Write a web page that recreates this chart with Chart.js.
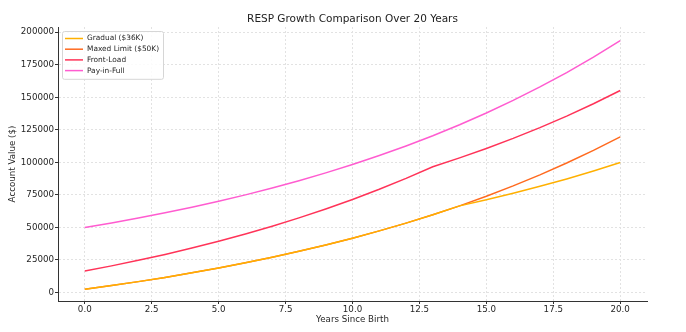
<!DOCTYPE html>
<html>
<head>
<meta charset="utf-8">
<script src="https://cdn.jsdelivr.net/npm/chart.js@4"></script>
<style>
  html, body { margin: 0; padding: 0; background: #fff; }
</style>
</head>
<body>
<canvas id="growthChart" width="686" height="332"></canvas>
<script>
const years = [0, 1, 2, 3, 4, 5, 6, 7, 8, 9, 10, 11, 12, 13, 14, 15, 16, 17, 18, 19, 20];
const gradual = [2500, 5340, 8380, 11640, 15120, 18840, 22830, 27100, 31660, 36540, 41770, 47360, 53340, 59740, 66590, 71250, 76240, 81580, 87290, 93400, 99930];
const maxedLimit = [2500, 5340, 8380, 11640, 15120, 18840, 22830, 27100, 31660, 36540, 41770, 47360, 53340, 59740, 66590, 74000, 81930, 90420, 99500, 109210, 119600];
const frontLoad = [16500, 20480, 24740, 29300, 34170, 39390, 44970, 50940, 57340, 64170, 71490, 79320, 87700, 96660, 103430, 110670, 118410, 126700, 135570, 145060, 155220];
const payInFull = [50000, 53500, 57250, 61250, 65540, 70130, 75040, 80290, 85910, 91920, 98360, 105240, 112610, 120490, 128930, 137950, 147610, 157940, 169000, 180830, 193480];
const xTicks = [0, 2.5, 5, 7.5, 10, 12.5, 15, 17.5, 20];
const yTicks = [0, 25000, 50000, 75000, 100000, 125000, 150000, 175000, 200000];

const FONT = '"DejaVu Sans", sans-serif';
const toPoints = arr => years.map((x, i) => ({ x: x, y: arr[i] }));

const series = [
    { label: 'Gradual ($36K)', data: gradual, color: '#ffb000' },
    { label: 'Maxed Limit ($50K)', data: maxedLimit, color: '#ff6a1f' },
    { label: 'Front-Load', data: frontLoad, color: '#ff3358' },
    { label: 'Pay-in-Full', data: payInFull, color: '#ff5cd0' }
];

// matplotlib-like legend box in the top left of the plot
const legendBox = {
    id: 'legendBox',
    afterDraw(chart) {
        const { ctx, chartArea } = chart;
        const sets = chart.data.datasets;
        const left = chartArea.left + 4;
        const top = chartArea.top + 4;
        const rowH = 10.7;
        ctx.save();
        ctx.font = '7.4px ' + FONT;
        const textW = Math.max(...sets.map(d => ctx.measureText(d.label).width));
        const w = 25 + textW + 4;
        const h = rowH * sets.length + 5;
        ctx.fillStyle = 'rgba(255,255,255,0.85)';
        ctx.strokeStyle = '#d6d6d6';
        ctx.lineWidth = 1;
        ctx.beginPath();
        ctx.roundRect(left + 0.5, top + 0.5, w, h, 2);
        ctx.fill();
        ctx.stroke();
        sets.forEach((d, i) => {
            const y = top + 7.5 + i * rowH;
            ctx.strokeStyle = d.borderColor;
            ctx.lineWidth = 1.5;
            ctx.beginPath();
            ctx.moveTo(left + 3, y);
            ctx.lineTo(left + 21, y);
            ctx.stroke();
            ctx.fillStyle = '#262626';
            ctx.textBaseline = 'middle';
            ctx.fillText(d.label, left + 25, y);
        });
        ctx.restore();
    }
};

const ctx = document.getElementById('growthChart').getContext('2d');
new Chart(ctx, {
    type: 'line',
    data: {
        datasets: series.map(s => ({
            label: s.label,
            data: toPoints(s.data),
            borderColor: s.color,
            backgroundColor: s.color,
            borderWidth: 1.5,
            pointRadius: 0,
            tension: 0,
            fill: false
        }))
    },
    options: {
        responsive: false,
        animation: false,
        devicePixelRatio: 1,
        layout: { padding: { left: 0, right: 39, top: 0, bottom: 0 } },
        plugins: {
            legend: { display: false },
            tooltip: { enabled: false },
            title: {
                display: true,
                fullSize: false,
                text: 'RESP Growth Comparison Over 20 Years',
                color: '#222',
                font: { family: FONT, size: 10.5, weight: 'normal' },
                padding: { top: 13.2, bottom: 1.2 }
            }
        },
        scales: {
            x: {
                type: 'linear',
                min: -1,
                max: 21,
                afterBuildTicks: scale => { scale.ticks = xTicks.map(v => ({ value: v })); },
                afterFit: scale => { scale.height = 31; },
                grid: {
                    color: '#e2e2e2',
                    drawTicks: true,
                    tickLength: 3,
                    tickColor: '#333',
                    tickBorderDash: []
                },
                border: { display: true, color: '#333', width: 1, dash: [2, 2] },
                ticks: {
                    color: '#262626',
                    padding: 1,
                    maxRotation: 0,
                    font: { family: FONT, size: 8.7 },
                    callback: v => v.toFixed(1)
                },
                title: {
                    display: true,
                    text: 'Years Since Birth',
                    color: '#262626',
                    font: { family: FONT, size: 8.7 },
                    padding: { top: 0, bottom: 6.8 }
                }
            },
            y: {
                type: 'linear',
                min: -6500,
                max: 204000,
                afterBuildTicks: scale => { scale.ticks = yTicks.map(v => ({ value: v })); },
                afterFit: scale => { scale.width = 58; },
                grid: {
                    color: '#e2e2e2',
                    drawTicks: true,
                    tickLength: 3,
                    tickColor: '#333',
                    tickBorderDash: []
                },
                border: { display: true, color: '#333', width: 1, dash: [2, 2] },
                ticks: {
                    color: '#262626',
                    padding: 1,
                    font: { family: FONT, size: 8.7 },
                    callback: v => String(v)
                },
                title: {
                    display: true,
                    text: 'Account Value ($)',
                    color: '#262626',
                    font: { family: FONT, size: 8.7 },
                    padding: { top: 7.8, bottom: 0 }
                }
            }
        }
    },
    plugins: [legendBox]
});
</script>
</body>
</html>
